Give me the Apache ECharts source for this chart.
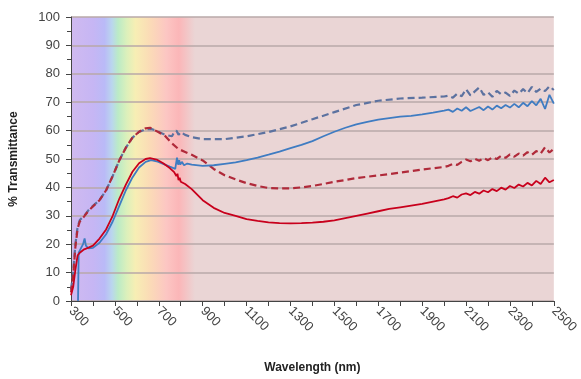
<!DOCTYPE html>
<html>
<head>
<meta charset="utf-8">
<script src="https://cdn.jsdelivr.net/npm/echarts@6/dist/echarts.min.js"></script>
<style>
html, body { margin: 0; padding: 0; background: #fff; }
#chart { width: 581px; height: 379px; }
</style>
</head>
<body>
<div id="chart"></div>
<script>
// wavelength (nm) / % transmittance
var tailNm = [2020, 2040, 2060, 2080, 2100, 2120, 2140, 2160, 2180, 2200, 2220, 2240, 2260,
              2280, 2300, 2320, 2340, 2360, 2380, 2400, 2420, 2440, 2460, 2480, 2500];

var redSolidNm = [300, 310, 320, 330, 340, 360, 380, 400, 430, 460, 490, 520, 550, 580, 610, 640, 660,
                  690, 720, 750, 770, 780, 785, 790, 795, 800, 820, 850, 900, 950, 1000, 1050, 1100,
                  1150, 1200, 1250, 1300, 1350, 1400, 1450, 1500, 1550, 1600, 1650, 1700, 1750, 1800,
                  1850, 1900, 1950, 2000];
var redSolidPct = [2, 5, 11, 16, 17, 18.2, 18.8, 19.5, 22, 25.2, 30, 36, 41, 45.5, 48.5, 50, 50.3,
                   49.8, 48.5, 46.8, 45.4, 44, 44.8, 42.6, 43.4, 42, 41.2, 39.4, 35.5, 32.8, 31, 30, 28.8,
                   28.2, 27.7, 27.4, 27.3, 27.4, 27.6, 27.9, 28.4, 29.2, 30, 30.8, 31.6, 32.4, 33,
                   33.6, 34.2, 35, 35.8];
var redSolidTail = [36.2, 36.9, 36.4, 37.5, 37.9, 37.3, 38.4, 37.8, 38.9, 38.3, 39.4, 38.7, 39.9,
                    39.2, 40.5, 39.8, 41.0, 40.3, 41.6, 40.7, 42.3, 41.2, 43.4, 41.8, 42.6];

var blueSolidNm = [332, 335, 345, 355, 362, 368, 380, 400, 430, 460, 490, 520, 550, 580, 610, 640, 665,
                   690, 720, 750, 775, 780, 783, 788, 793, 798, 805, 815, 830, 850, 900, 950, 1000, 1050,
                   1100, 1150, 1200, 1250, 1300, 1350, 1400, 1450, 1500, 1550, 1600, 1650, 1700, 1750,
                   1800, 1850, 1900, 1950, 2000];
var blueSolidPct = [0, 17, 18.5, 20, 22, 19.5, 18.5, 18.7, 20.5, 23.5, 28, 33.5, 39, 43.5, 47, 49, 49.6,
                    49.2, 48.3, 47.3, 46.5, 47, 50.5, 48, 49.6, 48, 49, 47.8, 48.4, 48, 47.6, 47.8, 48.3, 48.8,
                    49.6, 50.5, 51.5, 52.6, 53.8, 55, 56.3, 58, 59.6, 61, 62.2, 63.1, 63.9, 64.4,
                    64.9, 65.2, 65.7, 66.3, 67];
var blueSolidTail = [67.4, 66.6, 67.8, 67.0, 68.2, 66.9, 67.6, 68.3, 67.2, 68.5, 67.4, 68.8, 67.9,
                     69.0, 68.1, 69.4, 68.2, 69.8, 68.6, 70.4, 68.9, 71.2, 67.6, 72.6, 69.5];

var blueDashNm = [300, 310, 320, 330, 340, 360, 380, 400, 430, 460, 490, 520, 550, 580, 610, 640, 670,
                  700, 730, 760, 770, 780, 790, 800, 820, 850, 900, 1000, 1100, 1200, 1300, 1400, 1500,
                  1600, 1700, 1800, 1900, 2000];
var blueDashPct = [4, 10, 20, 26, 28.5, 30, 32, 33.5, 35.5, 39, 44, 49.5, 54, 57.5, 59.5, 60.5, 60.5,
                   59.5, 58.5, 58, 59.5, 60, 58.5, 59.5, 58.5, 57.7, 57, 57, 58, 59.5, 61.5, 64, 66.5,
                   69, 70.5, 71.3, 71.6, 72];
var blueDashTail = [72.3, 71.6, 73.0, 72.1, 74.6, 72.4, 73.8, 75.2, 72.6, 73.5, 71.9, 74.0, 72.8,
                    73.4, 72.2, 74.1, 73.0, 74.6, 73.2, 75.4, 73.6, 74.8, 73.9, 75.6, 74.3];

var redDashNm = [300, 310, 320, 330, 340, 360, 380, 400, 430, 460, 490, 520, 550, 580, 610, 640, 660,
                 700, 730, 760, 790, 820, 850, 900, 950, 1000, 1050, 1100, 1150, 1200, 1250, 1300, 1350,
                 1400, 1450, 1500, 1550, 1600, 1700, 1800, 1900, 2000];
var redDashPct = [3, 9, 19, 25.5, 28, 29.8, 31.8, 33.3, 35.5, 39, 44, 49.5, 54, 57.5, 59.6, 60.8, 61,
                  59.4, 58, 55.5, 53.5, 52.5, 51.5, 49.5, 46.5, 44.3, 42.8, 41.5, 40.5, 39.8, 39.6, 39.7, 40,
                  40.5, 41.2, 42, 42.6, 43.3, 44.2, 45.2, 46.3, 47.2];
var redDashTail = [47.6, 48.3, 47.9, 49.0, 49.8, 49.2, 50.1, 49.4, 50.3, 49.6, 50.6, 50.0, 51.1,
                   50.4, 51.6, 50.8, 51.9, 51.2, 52.4, 51.5, 52.8, 51.9, 54.1, 52.3, 53.6];

var xTicks = [300, 500, 700, 900, 1100, 1300, 1500, 1700, 1900, 2100, 2300, 2500];

function pairs(nm, pct, tail) {
    var out = [];
    nm.forEach(function (w, i) { out.push([w, pct[i]]); });
    if (tail) tailNm.forEach(function (w, i) { out.push([w, tail[i]]); });
    return out;
}

var font = 'Liberation Sans, Arial, sans-serif';
var myChart = echarts.init(document.getElementById('chart'), null, { renderer: 'canvas' });

var option = {
    animation: false,
    textStyle: { fontFamily: font },
    grid: {
        left: 71, right: 27, top: 17, bottom: 67,
        show: true,
        backgroundColor: '#ead5d5',
        borderWidth: 0
    },
    xAxis: {
        type: 'value',
        min: 300, max: 2500, interval: 200,
        z: 2,
        name: 'Wavelength (nm)',
        nameLocation: 'middle',
        nameGap: 61,
        nameTextStyle: { fontWeight: 'bold', fontSize: 12, color: '#222', fontFamily: font },
        axisLine: { lineStyle: { color: '#444', width: 1 } },
        axisTick: { show: true, length: 5, lineStyle: { color: '#444' } },
        minorTick: { show: true, splitNumber: 2, length: 5, lineStyle: { color: '#444' } },
        splitLine: { show: false },
        axisLabel: {
            rotate: -45, margin: 8, fontSize: 13, color: '#444', fontFamily: font,
            formatter: function (v) { return xTicks.indexOf(v) >= 0 ? String(v) : ''; }
        }
    },
    yAxis: {
        type: 'value',
        min: 0, max: 100, interval: 10,
        z: 2,
        name: '% Transmittance',
        nameLocation: 'middle',
        nameGap: 51,
        nameTextStyle: { fontWeight: 'bold', fontSize: 12, color: '#222', fontFamily: font },
        axisLine: { show: true, lineStyle: { color: '#444', width: 1 } },
        axisTick: { show: true, length: 5, lineStyle: { color: '#444' } },
        minorTick: { show: true, splitNumber: 2, length: 4, lineStyle: { color: '#444' } },
        splitLine: { show: true, lineStyle: { color: '#b9a8a8', width: 1.5 } },
        axisLabel: { margin: 11, fontSize: 13, color: '#444', fontFamily: font }
    },
    series: [
        {
            // visible-light spectrum band
            type: 'line',
            z: 1,
            data: [],
            silent: true,
            markArea: {
                silent: true,
                itemStyle: {
                    color: new echarts.graphic.LinearGradient(0, 0, 1, 0, [
                        { offset: 0, color: '#d0baf0' },
                        { offset: 0.18, color: '#c6b6f4' },
                        { offset: 0.27, color: '#babaf7' },
                        { offset: 0.33, color: '#bad6ee' },
                        { offset: 0.38, color: '#bbebc6' },
                        { offset: 0.45, color: '#dcf0bb' },
                        { offset: 0.52, color: '#f7eeb4' },
                        { offset: 0.63, color: '#fbdcb6' },
                        { offset: 0.77, color: '#fcc6c3' },
                        { offset: 0.87, color: '#fbb6b8' },
                        { offset: 1, color: '#ead5d5' }
                    ])
                },
                data: [[{ xAxis: 300, yAxis: 0 }, { xAxis: 865, yAxis: 100 }]]
            }
        },
        {
            name: 'blue dashed', type: 'line', z: 3, showSymbol: false,
            lineStyle: { color: '#5c72a0', width: 2.2, type: [7, 4] },
            data: pairs(blueDashNm, blueDashPct, blueDashTail)
        },
        {
            name: 'red dashed', type: 'line', z: 3, showSymbol: false,
            lineStyle: { color: '#b02a3a', width: 2.2, type: [7, 4] },
            data: pairs(redDashNm, redDashPct, redDashTail)
        },
        {
            name: 'blue solid', type: 'line', z: 4, showSymbol: false,
            lineStyle: { color: '#3f7cc2', width: 1.8 },
            data: pairs(blueSolidNm, blueSolidPct, blueSolidTail)
        },
        {
            name: 'red solid', type: 'line', z: 4, showSymbol: false,
            lineStyle: { color: '#c8001c', width: 1.8 },
            data: pairs(redSolidNm, redSolidPct, redSolidTail)
        }
    ]
};
myChart.setOption(option);
</script>
</body>
</html>
